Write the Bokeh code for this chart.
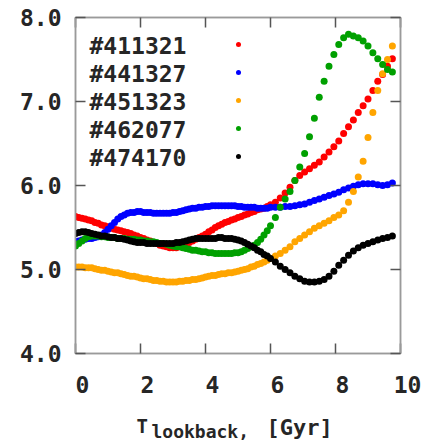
from bokeh.plotting import figure
from bokeh.layouts import column
from bokeh.models import Range1d, LinearAxis, Label, FixedTicker, PrintfTickFormatter
from bokeh.embed import file_html
from bokeh.resources import INLINE

# ---------------- data ----------------
T_LOOKBACK = [0.0, 0.1, 0.2, 0.3, 0.4, 0.5, 0.6, 0.7, 0.8, 0.9,
              1.0, 1.1, 1.2, 1.3, 1.4, 1.5, 1.6, 1.7, 1.8, 1.9,
              2.0, 2.1, 2.2, 2.3, 2.4, 2.5, 2.6, 2.7, 2.8, 2.9,
              3.0, 3.1, 3.2, 3.3, 3.4, 3.5, 3.6, 3.7, 3.8, 3.9,
              4.0, 4.1, 4.2, 4.3, 4.4, 4.5, 4.6, 4.7, 4.8, 4.9,
              5.0, 5.1, 5.2, 5.3, 5.4, 5.5, 5.6, 5.7, 5.8, 5.9,
              6.0, 6.15, 6.3, 6.45, 6.6, 6.75, 6.9, 7.05, 7.2, 7.35,
              7.5, 7.65, 7.8, 7.95, 8.1, 8.25, 8.4, 8.55, 8.7, 8.85,
              9.0, 9.15, 9.3, 9.45, 9.6, 9.75]

S_411321 = [5.63, 5.62, 5.61, 5.60, 5.59, 5.58, 5.56, 5.55, 5.53, 5.52,
            5.51, 5.49, 5.48, 5.47, 5.46, 5.45, 5.44, 5.43, 5.41, 5.40,
            5.38, 5.37, 5.35, 5.34, 5.32, 5.31, 5.29, 5.28, 5.27, 5.26,
            5.26, 5.26, 5.27, 5.28, 5.30, 5.32, 5.34, 5.36, 5.38, 5.40,
            5.42, 5.45, 5.47, 5.50, 5.52, 5.54, 5.56, 5.57, 5.59, 5.60,
            5.62, 5.63, 5.65, 5.66, 5.68, 5.69, 5.71, 5.72, 5.73, 5.75,
            5.77, 5.80, 5.85, 5.91, 5.98, 6.06, 6.12, 6.16, 6.20, 6.24,
            6.28, 6.34, 6.40, 6.46, 6.53, 6.62, 6.70, 6.78, 6.87, 6.95,
            7.03, 7.13, 7.24, 7.32, 7.42, 7.51]

S_441327 = [5.33, 5.34, 5.35, 5.36, 5.37, 5.37, 5.38, 5.39, 5.41, 5.44,
            5.48, 5.52, 5.56, 5.60, 5.63, 5.65, 5.67, 5.68, 5.68, 5.69,
            5.69, 5.68, 5.68, 5.68, 5.67, 5.67, 5.67, 5.67, 5.67, 5.67,
            5.68, 5.68, 5.69, 5.70, 5.71, 5.72, 5.73, 5.73, 5.74, 5.74,
            5.75, 5.75, 5.76, 5.76, 5.76, 5.76, 5.76, 5.76, 5.76, 5.76,
            5.75, 5.75, 5.74, 5.74, 5.74, 5.74, 5.73, 5.73, 5.73, 5.73,
            5.74, 5.74, 5.74, 5.75, 5.75, 5.76, 5.77, 5.78, 5.80, 5.82,
            5.84, 5.86, 5.88, 5.90, 5.92, 5.95, 5.97, 5.99, 6.01, 6.02,
            6.02, 6.02, 6.01, 6.00, 6.01, 6.03]

S_451323 = [5.03, 5.03, 5.03, 5.02, 5.02, 5.02, 5.01, 5.00, 4.99, 4.99,
            4.98, 4.97, 4.96, 4.96, 4.95, 4.94, 4.93, 4.92, 4.92, 4.91,
            4.90, 4.89, 4.89, 4.88, 4.87, 4.87, 4.86, 4.86, 4.85, 4.85,
            4.85, 4.85, 4.86, 4.86, 4.87, 4.87, 4.88, 4.88, 4.89, 4.90,
            4.91, 4.92, 4.93, 4.93, 4.94, 4.95, 4.95, 4.96, 4.96, 4.97,
            4.98, 4.99, 5.00, 5.01, 5.03, 5.04, 5.06, 5.07, 5.09, 5.11,
            5.13, 5.16, 5.19, 5.23, 5.27, 5.33, 5.37, 5.41, 5.45, 5.49,
            5.52, 5.55, 5.58, 5.62, 5.65, 5.70, 5.80, 5.93, 6.10, 6.29,
            6.57, 6.87, 7.13, 7.33, 7.50, 7.66]

S_462077 = [5.28, 5.31, 5.34, 5.37, 5.39, 5.40, 5.40, 5.40, 5.39, 5.39,
            5.38, 5.38, 5.38, 5.37, 5.37, 5.37, 5.36, 5.36, 5.36, 5.35,
            5.35, 5.34, 5.34, 5.33, 5.33, 5.32, 5.31, 5.31, 5.30, 5.29,
            5.28, 5.27, 5.27, 5.26, 5.25, 5.24, 5.23, 5.23, 5.22, 5.21,
            5.21, 5.20, 5.20, 5.19, 5.19, 5.19, 5.19, 5.19, 5.19, 5.20,
            5.20, 5.21, 5.23, 5.25, 5.27, 5.29, 5.32, 5.36, 5.41, 5.46,
            5.52, 5.62, 5.74, 5.84, 5.93, 6.06, 6.22, 6.38, 6.58, 6.80,
            7.05, 7.24, 7.42, 7.56, 7.68, 7.76, 7.80, 7.78, 7.76, 7.72,
            7.66, 7.58, 7.51, 7.44, 7.38, 7.35]

S_474170 = [5.43, 5.44, 5.45, 5.45, 5.44, 5.43, 5.42, 5.41, 5.40, 5.40,
            5.39, 5.38, 5.38, 5.37, 5.37, 5.36, 5.35, 5.34, 5.33, 5.32,
            5.32, 5.32, 5.31, 5.31, 5.31, 5.31, 5.31, 5.31, 5.31, 5.31,
            5.31, 5.32, 5.32, 5.33, 5.34, 5.35, 5.36, 5.37, 5.37, 5.37,
            5.37, 5.37, 5.37, 5.37, 5.38, 5.38, 5.37, 5.37, 5.37, 5.36,
            5.35, 5.34, 5.32, 5.30, 5.28, 5.26, 5.23, 5.21, 5.18, 5.16,
            5.13, 5.09, 5.04, 5.00, 4.96, 4.92, 4.89, 4.86, 4.85, 4.85,
            4.86, 4.88, 4.92, 4.98, 5.05, 5.11, 5.17, 5.22, 5.26, 5.29,
            5.31, 5.33, 5.35, 5.37, 5.38, 5.40]

SERIES_NAMES = ["#411321", "#441327", "#451323", "#462077", "#474170"]
SERIES_VALUES = [S_411321, S_441327, S_451323, S_462077, S_474170]
SERIES_COLORS = ["#ff0000", "#0000ff", "#ffa500", "#00a000", "#000000"]

X_TICKS = [0, 2, 4, 6, 8, 10]
X_TICK_LABELS = ["0", "2", "4", "6", "8", "10"]
Y_TICKS = [4, 5, 6, 7, 8]

# ---------------- layout ----------------
W = 423
H1 = 366                 # main figure height
H2 = 441 - H1            # strip below holding x tick labels and x title
FL, FR, FT, FB = 75, 400, 17, 353   # frame edges in page px
FONT = "DejaVu Sans Mono"
TXT = "#262626"
AX = "#9a9a9a"

p = figure(width=W, height=H1, output_backend="svg", toolbar_location=None,
           x_range=Range1d(0, 10), y_range=Range1d(4, 8),
           min_border_left=FL, min_border_right=W - FR,
           min_border_top=FT, min_border_bottom=H1 - FB)
p.frame_align = False
p.grid.visible = False
p.outline_line_color = AX
p.outline_line_width = 1.5
p.background_fill_color = "white"
p.border_fill_color = "white"

p.add_layout(LinearAxis(), "above")
p.add_layout(LinearAxis(), "right")

for ax in p.axis:
    ax.axis_line_color = AX
    ax.axis_line_width = 1.5
    ax.major_tick_in = 10
    ax.major_tick_out = 0
    ax.major_tick_line_color = "#555555"
    ax.major_tick_line_width = 1.5
    ax.minor_tick_line_color = None

for ax in p.above + p.below:
    ax.ticker = FixedTicker(ticks=X_TICKS)
for ax in p.left + p.right:
    ax.ticker = FixedTicker(ticks=Y_TICKS)

# axes without labels (bottom labels are drawn in the strip below)
for ax in p.above + p.right + p.below:
    ax.major_label_text_color = None
    ax.major_label_text_font_size = "0px"
    ax.major_label_standoff = 0

yax = p.left[0]
yax.formatter = PrintfTickFormatter(format="%.1f")
yax.major_label_text_font = FONT
yax.major_label_text_font_style = "bold"
yax.major_label_text_font_size = "23px"
yax.major_label_text_color = TXT
yax.major_label_standoff = 14

# data
for vals, col in zip(SERIES_VALUES, SERIES_COLORS):
    p.scatter(T_LOOKBACK, vals, size=7, marker="circle",
              fill_color=col, line_color=None)

# legend (labels left, markers right as in the reference)
LEG_TEXT_PX = 89
LEG_DOT_PX = 238
LEG_ROW0 = 45      # page px of first row centre
LEG_DY = 28

def to_data_x(px):
    return (px - FL) / (FR - FL) * 10.0

def to_data_y(py):
    return 8.0 - (py - FT) / (FB - FT) * 4.0

for i, (name, col) in enumerate(zip(SERIES_NAMES, SERIES_COLORS)):
    py = LEG_ROW0 + i * LEG_DY
    p.add_layout(Label(x=LEG_TEXT_PX - FL, y=FB - py, x_units="screen", y_units="screen",
                       text=name, text_font=FONT, text_font_style="bold",
                       text_font_size="23px", text_color=TXT,
                       text_align="left", text_baseline="middle"))
    p.scatter([to_data_x(LEG_DOT_PX)], [to_data_y(py - 1)], size=5,
              marker="circle", fill_color=col, line_color=None)

# ---------------- strip below: x tick labels and x-axis title ----------------
scale = (FR - FL) / 10.0
p2 = figure(width=W, height=H2, output_backend="svg", toolbar_location=None,
            x_range=Range1d(-FL / scale, (W - FL) / scale),
            y_range=Range1d(0, H2),
            x_axis_location=None, y_axis_location=None,
            min_border_left=0, min_border_right=0,
            min_border_top=0, min_border_bottom=0)
p2.frame_align = False
p2.grid.visible = False
p2.outline_line_color = None
p2.background_fill_color = "white"
p2.border_fill_color = "white"

def y2(py):
    return 441 - py

for v, s in zip(X_TICKS, X_TICK_LABELS):
    p2.add_layout(Label(x=v, y=y2(384), x_offset=7, text=s,
                        text_font=FONT, text_font_style="bold",
                        text_font_size="23px", text_color=TXT,
                        text_align="center", text_baseline="middle"))

p2.add_layout(Label(x=136, y=y2(425), x_units="screen", y_units="screen",
                    text="T", text_font=FONT, text_font_style="bold",
                    text_font_size="19px", text_color=TXT,
                    text_align="left", text_baseline="alphabetic"))
p2.add_layout(Label(x=151, y=y2(431), x_units="screen", y_units="screen",
                    text="lookback,", text_font=FONT, text_font_style="bold",
                    text_font_size="18px", text_color=TXT,
                    text_align="left", text_baseline="alphabetic"))
p2.add_layout(Label(x=266, y=y2(427), x_units="screen", y_units="screen",
                    text="[Gyr]", text_font=FONT, text_font_style="bold",
                    text_font_size="22px", text_color=TXT,
                    text_align="left", text_baseline="alphabetic"))

layout = column(p, p2, spacing=0)
open("out.html", "w").write(file_html(layout, INLINE))
